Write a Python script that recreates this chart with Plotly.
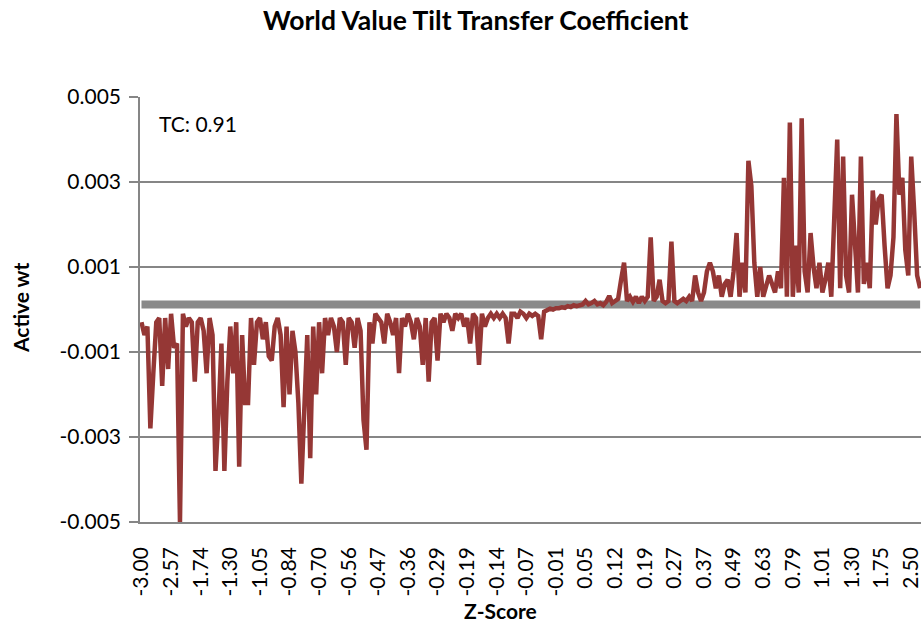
import plotly.graph_objects as go

# Tick labels of the Z-score category axis (one label every 10 categories)
tick_labels = ["-3.00", "-2.57", "-1.74", "-1.30", "-1.05", "-0.84", "-0.70", "-0.56",
               "-0.47", "-0.36", "-0.29", "-0.19", "-0.14", "-0.07", "-0.01", "0.05",
               "0.12", "0.19", "0.27", "0.37", "0.49", "0.63", "0.79", "1.01", "1.30",
               "1.75", "2.50"]
label_step = 10

# Active weight per stock, sorted by Z-score
active_wt = [
    # -3.00 .. -2.57
    -0.0003, -0.0006, -0.0004, -0.0028, -0.0015, -0.0003, -0.0002, -0.0018, -0.0002, -0.0014,
    # -2.57 .. -1.74
    -0.0001, -0.0009, -0.0008, -0.0050, -0.0001, -0.0004, -0.0002, -0.0003, -0.0017, -0.0003,
    # -1.74 .. -1.30
    -0.0002, -0.0005, -0.0015, -0.0002, -0.0006, -0.0038, -0.0025, -0.0008, -0.0038, -0.0017,
    # -1.30 .. -1.05
    -0.0004, -0.0015, -0.0003, -0.0037, -0.0006, -0.0022, -0.0022, -0.0002, -0.0013, -0.0003,
    # -1.05 .. -0.84
    -0.0002, -0.0007, -0.0003, -0.0011, -0.0012, -0.0004, -0.0002, -0.0006, -0.0023, -0.0004,
    # -0.84 .. -0.70
    -0.0020, -0.0005, -0.0010, -0.0022, -0.0041, -0.0023, -0.0006, -0.0035, -0.0004, -0.0020,
    # -0.70 .. -0.56
    -0.0003, -0.0015, -0.0002, -0.0006, -0.0002, -0.0004, -0.0010, -0.0002, -0.0003, -0.0013,
    # -0.56 .. -0.47
    -0.0002, -0.0003, -0.0009, -0.0002, -0.0005, -0.0026, -0.0033, -0.0003, -0.0008, -0.0001,
    # -0.47 .. -0.36
    -0.0002, -0.0003, -0.0008, -0.0001, -0.0003, -0.0006, -0.0002, -0.0015, -0.0002, -0.0004,
    # -0.36 .. -0.29
    -0.0001, -0.0003, -0.0007, -0.0002, -0.0004, -0.0013, -0.0002, -0.0017, -0.0003, -0.0002,
    # -0.29 .. -0.19
    -0.0012, -0.0001, -0.0003, -0.0001, -0.0002, -0.0005, -0.0001, -0.0002, -0.0001, -0.0004,
    # -0.19 .. -0.14
    -0.0002, -0.0008, -0.0001, -0.0002, -0.0013, -0.0001, -0.0004, -0.0002, -0.0001, -0.0002,
    # -0.14 .. -0.07
    -0.0001, -0.0002, -0.0001, -0.0002, -0.0008, -0.0001, -0.0001, -0.0002, -0.00005, -0.0001,
    # -0.07 .. -0.01
    -0.0002, -0.0001, -0.00015, -0.0001, -0.00015, -0.0007, -0.00005, 0.0, 0.00002, 0.0,
    # -0.01 .. 0.05
    0.00003, 0.00003, 0.00005, 0.00004, 0.00008, 0.00006, 0.0001, 0.00008, 0.0001, 0.00012,
    # 0.05 .. 0.12
    0.0002, 0.00012, 0.00015, 0.0002, 0.00012, 0.00015, 0.0001, 0.00018, 0.00032, 0.00015,
    # 0.12 .. 0.19
    0.0002, 0.00025, 0.0007, 0.0011, 0.0002, 0.0003, 0.00018, 0.0003, 0.00015, 0.0003,
    # 0.19 .. 0.27
    0.0002, 0.0003, 0.0017, 0.0002, 0.0003, 0.0007, 0.0002, 0.00015, 0.0002, 0.0016,
    # 0.27 .. 0.37
    0.0002, 0.00015, 0.0002, 0.00025, 0.0002, 0.0003, 0.0002, 0.0008, 0.0004, 0.0002,
    # 0.37 .. 0.49
    0.0004, 0.0009, 0.0011, 0.0009, 0.0005, 0.0008, 0.0003, 0.0006, 0.0007, 0.0003,
    # 0.49 .. 0.63
    0.0009, 0.0018, 0.0003, 0.0011, 0.0004, 0.0035, 0.0029, 0.0011, 0.0003, 0.0010,
    # 0.63 .. 0.79
    0.0003, 0.0006, 0.0008, 0.0006, 0.0004, 0.0009, 0.0005, 0.0031, 0.0003, 0.0044,
    # 0.79 .. 1.01
    0.0003, 0.0015, 0.0004, 0.0045, 0.0009, 0.0004, 0.0018, 0.0010, 0.0005, 0.0011,
    # 1.01 .. 1.30
    0.0004, 0.0007, 0.0011, 0.0003, 0.0023, 0.0040, 0.0005, 0.0036, 0.0008, 0.0004,
    # 1.30 .. 1.75
    0.0027, 0.0015, 0.0004, 0.0036, 0.0006, 0.0011, 0.0005, 0.0028, 0.0020, 0.0026,
    # 1.75 .. 2.50
    0.0027, 0.0015, 0.0005, 0.0008, 0.0017, 0.0046, 0.0027, 0.0031, 0.0014, 0.0008,
    # 2.50 ..
    0.0036, 0.0023, 0.0008, 0.0005,
]

# Benchmark-level grey series (one value per labelled category, plus the last one)
benchmark_wt = [0.00012, 0.00012, 0.00012, 0.00012, 0.00012, 0.00012, 0.00012, 0.00012,
                0.00012, 0.00012, 0.00012, 0.00012, 0.00012, 0.00012, 0.00012, 0.00012,
                0.00012, 0.00012, 0.00012, 0.00012, 0.00012, 0.00012, 0.00012, 0.00012,
                0.00012, 0.00012, 0.00012, 0.00012]

y_ticks = [0.005, 0.003, 0.001, -0.001, -0.003, -0.005]
tc_text = "TC: 0.91"

n = len(active_wt)
x_pos = list(range(n))
tick_pos = [i * label_step for i in range(len(tick_labels))]
bench_pos = tick_pos + [n - 1]

FONT = "Lato"
GRID = "#868686"
RED = "#953735"

fig = go.Figure()
fig.add_trace(go.Scatter(x=bench_pos, y=benchmark_wt, mode="lines",
                         line=dict(color="#8a8a8a", width=8), hoverinfo="skip",
                         showlegend=False))
fig.add_trace(go.Scatter(x=x_pos, y=active_wt, mode="lines",
                         line=dict(color=RED, width=4.5), showlegend=False))

fig.update_layout(
    width=921, height=626,
    margin=dict(l=140, r=0, t=97, b=104),
    paper_bgcolor="white", plot_bgcolor="white",
    font=dict(family=FONT, size=21, color="black"),
    xaxis=dict(range=[-0.5, n - 0.7], tickmode="array", tickvals=tick_pos,
               ticktext=tick_labels, tickangle=-90, showgrid=False, zeroline=False,
               showline=True, linecolor=GRID, linewidth=1.5, ticks="",
               ticklabelstandoff=15, ticklabeloverflow="allow",
               tickfont=dict(family=FONT, size=21)),
    yaxis=dict(range=[-0.005, 0.005], tickmode="array", tickvals=y_ticks,
               ticktext=[f"{v:.3f}" for v in y_ticks], showgrid=True,
               gridcolor=GRID, gridwidth=1.5, zeroline=False, showline=True,
               linecolor=GRID, linewidth=1.5, ticks="outside", ticklen=9,
               tickcolor=GRID, tickwidth=1.5, ticklabelstandoff=4,
               tickfont=dict(family=FONT, size=21)),
    annotations=[
        dict(text="<b>World Value Tilt Transfer Coefficient</b>", xref="paper", yref="paper",
             x=(476 - 140) / 781, y=(522 - 20) / 425, xanchor="center", yanchor="middle",
             showarrow=False, font=dict(family=FONT, size=26.5)),
        dict(text="<b>Active wt</b>", xref="paper", yref="paper",
             x=(20 - 140) / 781, y=(522 - 308) / 425, xanchor="center", yanchor="middle",
             textangle=-90, showarrow=False, font=dict(family=FONT, size=21)),
        dict(text="<b>Z-Score</b>", xref="paper", yref="paper",
             x=(500 - 140) / 781, y=(522 - 610) / 425, xanchor="center", yanchor="middle",
             showarrow=False, font=dict(family=FONT, size=21)),
        dict(text=tc_text, xref="paper", yref="paper",
             x=(157 - 140) / 781, y=(522 - 124) / 425, xanchor="left", yanchor="middle",
             showarrow=False, font=dict(family=FONT, size=21)),
    ],
)

fig.write_html("out.html", config={"displayModeBar": False},
               post_script="document.body.style.margin='0';document.body.style.padding='0';")
